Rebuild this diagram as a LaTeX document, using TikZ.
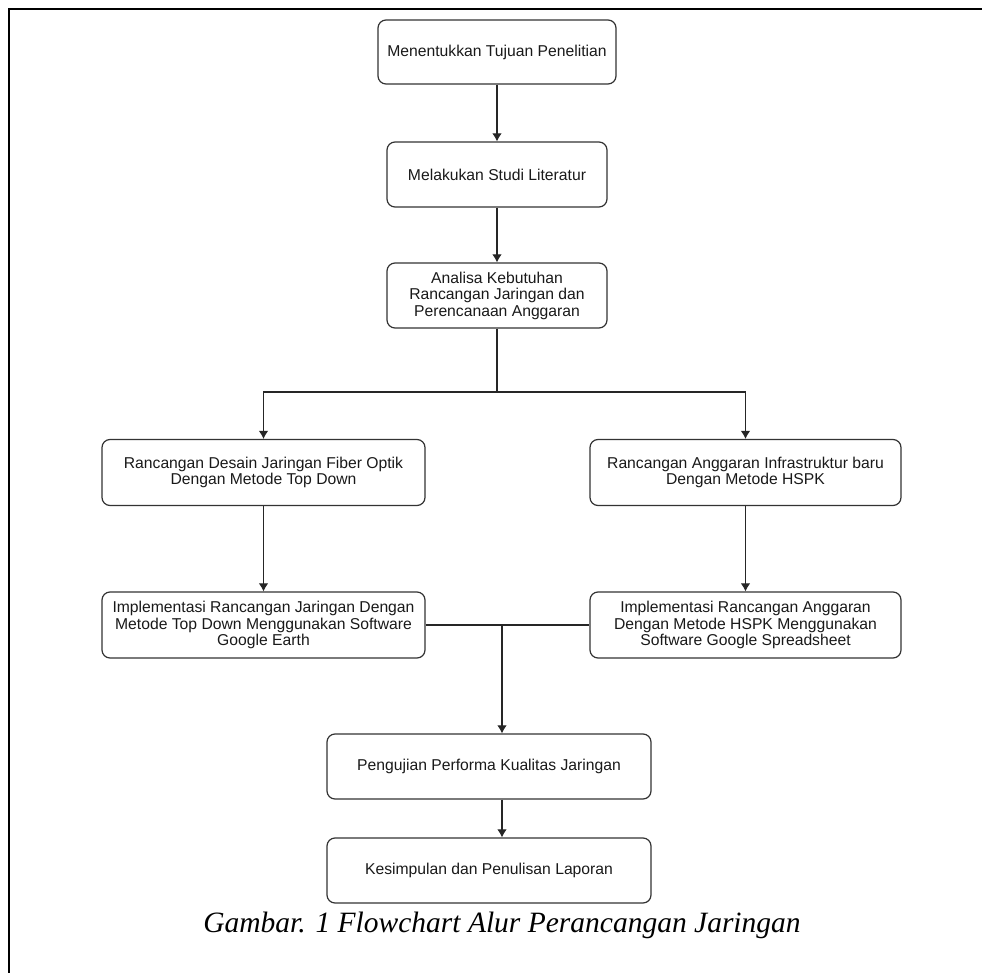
\documentclass[tikz,border=0pt]{standalone}
\usepackage{fontspec}
\setmainfont{Liberation Serif}
\setsansfont{Liberation Sans}
\usetikzlibrary{arrows.meta,positioning}

\begin{document}
\begin{tikzpicture}[x=1pt, y=-1pt,
                >={Latex[length=8pt,width=9.5pt]}]
        \tikzset{
                basic/.style  = {draw=black!80, line width=1.2pt, rounded corners=8pt,
                                font=\sffamily\fontsize{15.7}{16.5}\selectfont, text=black!90,
                                align=center, inner sep=0pt},
                atas/.style   = {basic, minimum width=220pt, minimum height=65pt},
                cabang/.style = {basic, minimum height=66pt},
                bawah/.style  = {basic, minimum width=324pt, minimum height=65pt},
                garis/.style  = {line width=1.1pt, draw=black!85},
                judul/.style  = {font=\rmfamily\itshape\fontsize{29.5}{30}\selectfont, anchor=base}
        }
        \useasboundingbox (0,0) rectangle (982,973);
        % frame, only the top and left edges are shown
        \draw[line width=2pt] (9,973) -- (9,9) -- (982,9);

        % main column
        \node[atas, minimum width=238pt, minimum height=64pt] (tujuan) at (497,52) {Menentukkan Tujuan Penelitian};
        \node[atas] (studi) at (497,174.5) {Melakukan Studi Literatur};
        \node[atas] (analisa) at (497,295.5) {Analisa Kebutuhan\\Rancangan Jaringan dan\\Perencanaan Anggaran};

        % the two branches
        \node[cabang, minimum width=323pt] (desain) at (263.5,472.5) {Rancangan Desain Jaringan Fiber Optik\\Dengan Metode Top Down};
        \node[cabang, minimum width=311pt] (anggaran) at (745.5,472.5) {Rancangan Anggaran Infrastruktur baru\\Dengan Metode HSPK};
        \node[cabang, minimum width=323pt] (impjar) at (263.5,625) {Implementasi Rancangan Jaringan Dengan\\Metode Top Down Menggunakan Software\\Google Earth};
        \node[cabang, minimum width=311pt] (impang) at (745.5,625) {Implementasi Rancangan Anggaran\\Dengan Metode HSPK Menggunakan\\Software Google Spreadsheet};

        % end of the flow
        \node[bawah] (uji) at (489,766.5) {Pengujian Performa Kualitas Jaringan};
        \node[bawah] (simpul) at (489,870.5) {Kesimpulan dan Penulisan Laporan};

        \node[judul] (caption) at (502,932) {Gambar. 1 Flowchart Alur Perancangan Jaringan};

        % connectors
        \begin{scope}[every path/.style=garis]
                \draw[->] (tujuan) -- (studi);
                \draw[->] (studi) -- (analisa);

                \coordinate (fork) at (497,392);
                \draw (analisa) -- (fork);
                \draw[->] (fork) -| (desain);
                \draw[->] (fork) -| (anggaran);

                \draw[->] (desain) -- (impjar);
                \draw[->] (anggaran) -- (impang);

                \coordinate (gabung) at (502,625);
                \draw (impjar) -- (impang);
                \draw[->] (gabung) -- (uji.north -| gabung);
                \draw[->] (uji.south -| gabung) -- (simpul.north -| gabung);
        \end{scope}
\end{tikzpicture}
\end{document}
